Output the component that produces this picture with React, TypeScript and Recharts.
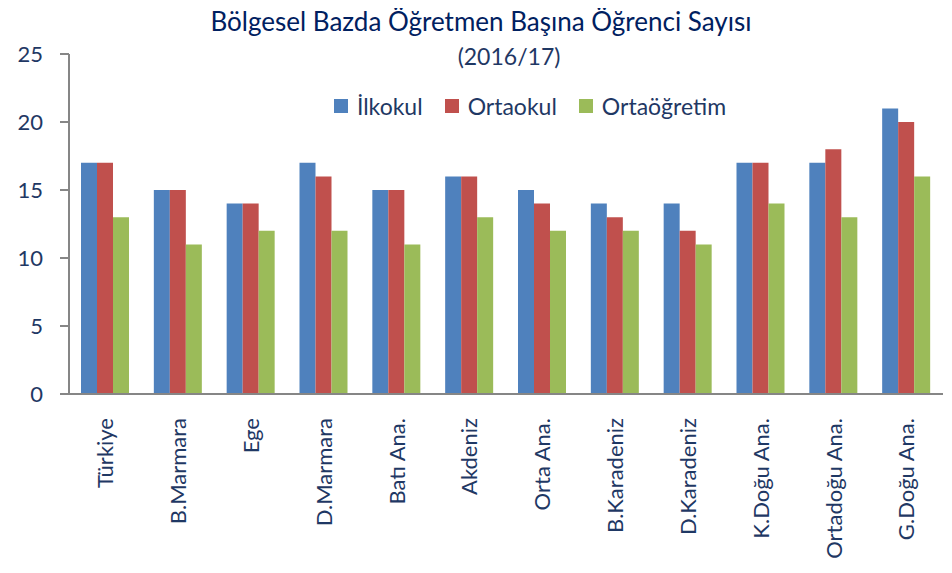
import React from "react"
import { BarChart, Bar, XAxis, YAxis, Legend } from "recharts"

const regions = [
  "Türkiye",
  "B.Marmara",
  "Ege",
  "D.Marmara",
  "Batı Ana.",
  "Akdeniz",
  "Orta Ana.",
  "B.Karadeniz",
  "D.Karadeniz",
  "K.Doğu Ana.",
  "Ortadoğu Ana.",
  "G.Doğu Ana.",
]
const ilkokul = [17, 15, 14, 17, 15, 16, 15, 14, 14, 17, 17, 21]
const ortaokul = [17, 15, 14, 16, 15, 16, 14, 13, 12, 17, 18, 20]
const ortaogretim = [13, 11, 12, 12, 11, 13, 12, 12, 11, 14, 13, 16]
const yTicks = [0, 5, 10, 15, 20, 25]

const series = [
  { key: "ilkokul", name: "İlkokul", color: "#4F81BD" },
  { key: "ortaokul", name: "Ortaokul", color: "#C0504D" },
  { key: "ortaogretim", name: "Ortaöğretim", color: "#9BBB59" },
]

const data = regions.map((region, i) => ({
  region,
  ilkokul: ilkokul[i],
  ortaokul: ortaokul[i],
  ortaogretim: ortaogretim[i],
}))

const FONT = "Lato, 'Open Sans', sans-serif"
const TEXT = "#1F3864"
const AXIS = "#868686"

function RegionTick(props: any) {
  const { x, y, payload } = props
  return (
    <text
      x={x}
      y={y + 16}
      transform={`rotate(-90 ${x} ${y + 16})`}
      textAnchor="end"
      dy="0.36em"
      fill={TEXT}
      fontSize={22}
      fontFamily={FONT}
    >
      {payload.value}
    </text>
  )
}

function LegendContent() {
  return (
    <div style={{ display: "flex", justifyContent: "center", gap: 22, fontFamily: FONT, fontSize: 23, color: TEXT }}>
      {series.map((s) => (
        <div key={s.key} style={{ display: "flex", alignItems: "center" }}>
          <span style={{ width: 14, height: 14, background: s.color, marginRight: 9, display: "inline-block" }} />
          {s.name}
        </div>
      ))}
    </div>
  )
}

export default function App() {
  return (
    <div style={{ position: "relative", width: 952, height: 573, margin: -8, background: "#fff", fontFamily: FONT }}>
      <div style={{ position: "absolute", top: 5, left: 0, width: 962, textAlign: "center", fontSize: 26, color: "#002060" }}>
        Bölgesel Bazda Öğretmen Başına Öğrenci Sayısı
      </div>
      <div style={{ position: "absolute", top: 42, left: 0, width: 1018, textAlign: "center", fontSize: 23, color: TEXT }}>
        (2016/17)
      </div>
      <BarChart
        width={952}
        height={573}
        data={data}
        margin={{ top: 54, right: 9, bottom: 0, left: 0 }}
        barGap={0}
        barSize={16}
      >
        <XAxis
          dataKey="region"
          interval={0}
          height={179}
          tickLine={false}
          axisLine={{ stroke: AXIS, strokeWidth: 2 }}
          tick={<RegionTick />}
        />
        <YAxis
          domain={[0, 25]}
          ticks={yTicks}
          width={69}
          tickSize={9}
          tickMargin={17}
          axisLine={{ stroke: AXIS, strokeWidth: 2 }}
          tickLine={{ stroke: AXIS, strokeWidth: 2 }}
          tick={{ fill: TEXT, fontSize: 22, fontFamily: FONT }}
        />
        <Legend
          verticalAlign="middle"
          align="center"
          content={<LegendContent />}
          wrapperStyle={{ top: 92, left: 60, width: 940 }}
        />
        {series.map((s) => (
          <Bar key={s.key} dataKey={s.key} name={s.name} fill={s.color} isAnimationActive={false} />
        ))}
      </BarChart>
    </div>
  )
}
